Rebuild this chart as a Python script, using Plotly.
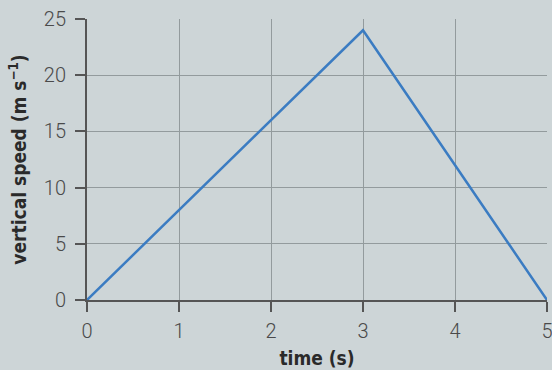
import plotly.graph_objects as go

time_s = [0, 3, 5]
speed = [0, 24, 0]
x_ticks = [0, 1, 2, 3, 4, 5]
y_ticks = [0, 5, 10, 15, 20, 25]

bg = "#cdd5d7"
fig = go.Figure()
fig.add_trace(go.Scatter(x=time_s, y=speed, mode="lines",
                         line=dict(color="#3b7cc2", width=2.5), cliponaxis=False,
                         hoverinfo="skip"))
fig.update_layout(
    width=552, height=370,
    margin=dict(l=87, r=5, t=19, b=70),
    paper_bgcolor=bg, plot_bgcolor=bg,
    showlegend=False,
    font=dict(family="Roboto", color="#3a3a3a"),
)
tickfont = dict(size=20, family="Roboto", weight=300, color="#4a4a4a")
titlefont = dict(size=19, family="DejaVu Sans Condensed", weight="bold", color="#2a2a2a")
fig.update_xaxes(
    range=[0, 5], tickvals=x_ticks, ticks="outside", ticklen=10, tickwidth=1.5,
    tickcolor="#555", showline=True, linecolor="#555", linewidth=2,
    showgrid=True, gridcolor="#939b9d", gridwidth=1, zeroline=False,
    tickfont=tickfont, ticklabelstandoff=2, ticklabeloverflow="allow",
    automargin=False,
    title=dict(text="time (s)", font=titlefont, standoff=10),
)
fig.update_yaxes(
    range=[0, 25], tickvals=y_ticks, ticks="outside", ticklen=10, tickwidth=1.5,
    tickcolor="#555", showline=True, linecolor="#555", linewidth=2,
    showgrid=True, gridcolor="#939b9d", gridwidth=1, zeroline=False,
    tickfont=tickfont, ticklabelstandoff=5, ticklabeloverflow="allow",
    automargin=False,
    title=dict(text="vertical speed (m s<sup>−1</sup>)", font=titlefont, standoff=12),
)
fig.write_html("out.html", config={"displayModeBar": False},
               post_script="document.body.style.margin='0';document.body.style.padding='0';document.body.style.overflow='hidden';")
